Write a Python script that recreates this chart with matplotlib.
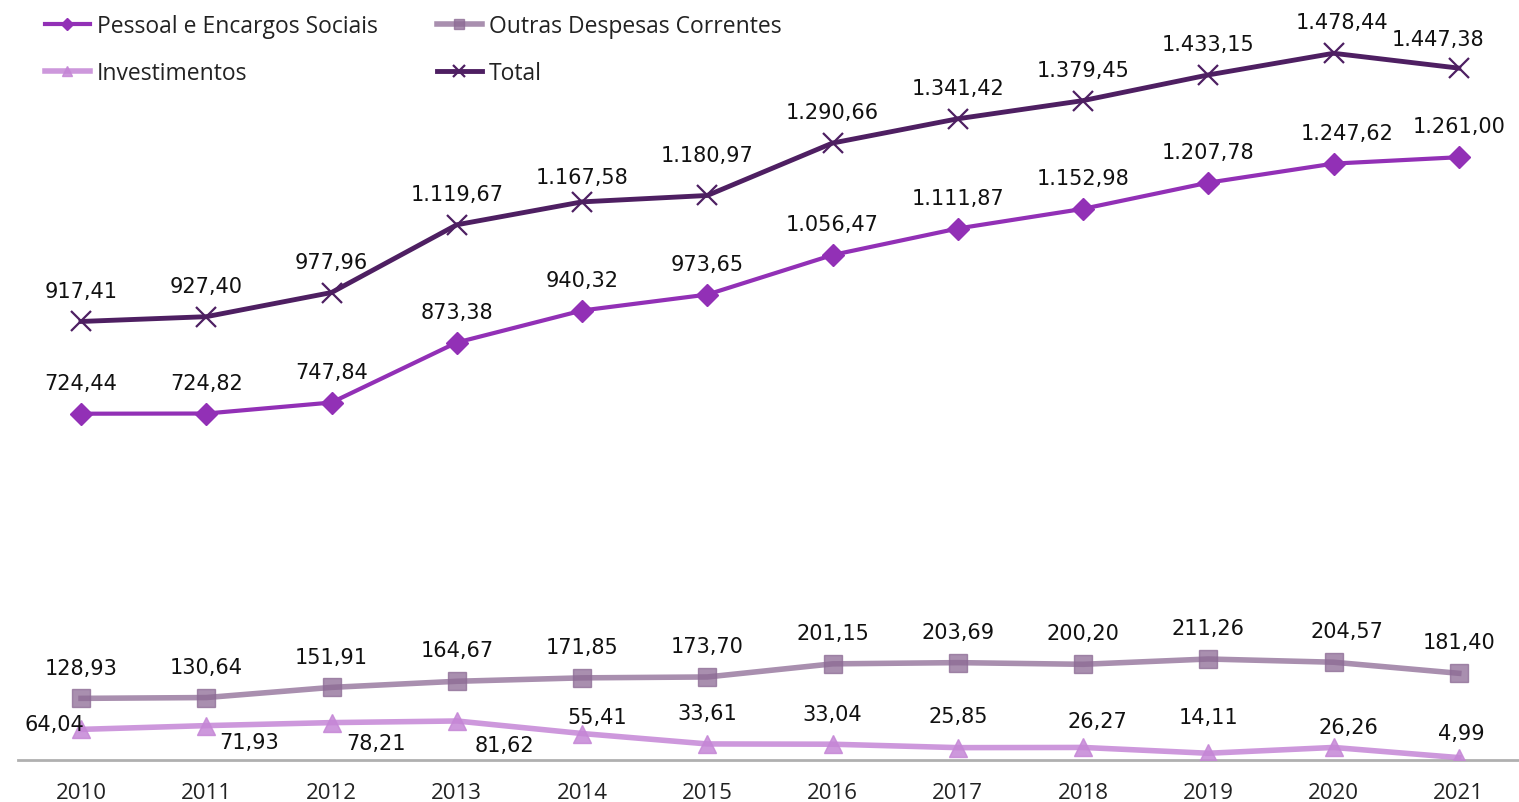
import numpy as np
import matplotlib
matplotlib.use("Agg")
from matplotlib import pyplot as plt

anos = ["2010", "2011", "2012", "2013", "2014", "2015",
        "2016", "2017", "2018", "2019", "2020", "2021"]
pessoal = [724.44, 724.82, 747.84, 873.38, 940.32, 973.65,
           1056.47, 1111.87, 1152.98, 1207.78, 1247.62, 1261.00]
outras = [128.93, 130.64, 151.91, 164.67, 171.85, 173.70,
          201.15, 203.69, 200.20, 211.26, 204.57, 181.40]
invest = [64.04, 71.93, 78.21, 81.62, 55.41, 33.61,
          33.04, 25.85, 26.27, 14.11, 26.26, 4.99]
total = [917.41, 927.40, 977.96, 1119.67, 1167.58, 1180.97,
         1290.66, 1341.42, 1379.45, 1433.15, 1478.44, 1447.38]

# label offsets in points (x, y), picked by eye
inv_off = [(-19, 4), (31, -12), (32, -15), (34, -17), (11, 12), (0, 22),
           (0, 22), (0, 23), (10, 19), (0, 26), (11, 15), (2, 18)]
tot_off = [(0, 15), (0, 15), (0, 15), (0, 15), (0, 11), (0, 22),
           (0, 15), (0, 15), (0, 15), (0, 15), (6, 15), (-15, 14)]
pes_off = [(0, 15)] * 10 + [(10, 15), (0, 15)]
out_off = [(0, 15)] * 10 + [(10, 15), (0, 15)]


def fmt(v):
    s = "{:,.2f}".format(v)
    return s.replace(",", "X").replace(".", ",").replace("X", ".")


fig = plt.figure(figsize=(15.19, 8.03), dpi=100)
ax = fig.add_axes([18.4 / 1519, 42 / 803, 1503 / 1519, 761 / 803])
x = np.arange(len(anos))

c_pes = "#9230b6"
c_out = "#8c6a94"
c_inv = "#c586d6"
c_tot = "#4e1f62"

l1, = ax.plot(x, pessoal, color=c_pes, lw=3, marker="D", ms=11, zorder=4,
              label="Pessoal e Encargos Sociais")
l2, = ax.plot(x, outras, color=c_out, lw=4, marker="s", ms=13, alpha=0.75,
              zorder=3, label="Outras Despesas Correntes")
l3, = ax.plot(x, invest, color=c_inv, lw=4, marker="^", ms=13, alpha=0.85,
              zorder=3, label="Investimentos")
l4, = ax.plot(x, total, color=c_tot, lw=3.5, marker="x", ms=14, mew=1.6,
              zorder=4, label="Total")

lab = dict(textcoords="offset points", ha="center", fontsize=15,
           family="DejaVu Sans", color="#111111")
for i in range(len(anos)):
    ax.annotate(fmt(total[i]), (x[i], total[i]), xytext=tot_off[i], va="bottom", **lab)
    ax.annotate(fmt(pessoal[i]), (x[i], pessoal[i]), xytext=pes_off[i], va="bottom", **lab)
    ax.annotate(fmt(outras[i]), (x[i], outras[i]), xytext=out_off[i], va="bottom", **lab)
    ax.annotate(fmt(invest[i]), (x[i], invest[i]), xytext=inv_off[i], va="center", **lab)

ax.set_xlim(-0.5, len(anos) - 0.5)
ax.set_ylim(0, 1592)
ax.set_xticks(x)
ax.set_xticklabels(anos, fontsize=16, family="Open Sans", color="#222222")
ax.tick_params(axis="x", length=0, pad=16)
ax.set_yticks([])
for s in ["top", "right", "left"]:
    ax.spines[s].set_visible(False)
ax.spines["bottom"].set_color("#b0b0b0")
ax.spines["bottom"].set_linewidth(2)

leg = fig.legend(handles=[l1, l3, l2, l4], ncol=2, loc="upper left",
                 bbox_to_anchor=(45 / 1519, 1 - 15 / 803), frameon=False,
                 borderpad=0, borderaxespad=0, handlelength=1.95,
                 handletextpad=0.3, columnspacing=2.6, labelspacing=1.0,
                 prop={"family": "Open Sans", "size": 16.5}, markerscale=0.6)
for t in leg.get_texts():
    t.set_color("#222222")

fig.savefig("out.png", dpi=100)
